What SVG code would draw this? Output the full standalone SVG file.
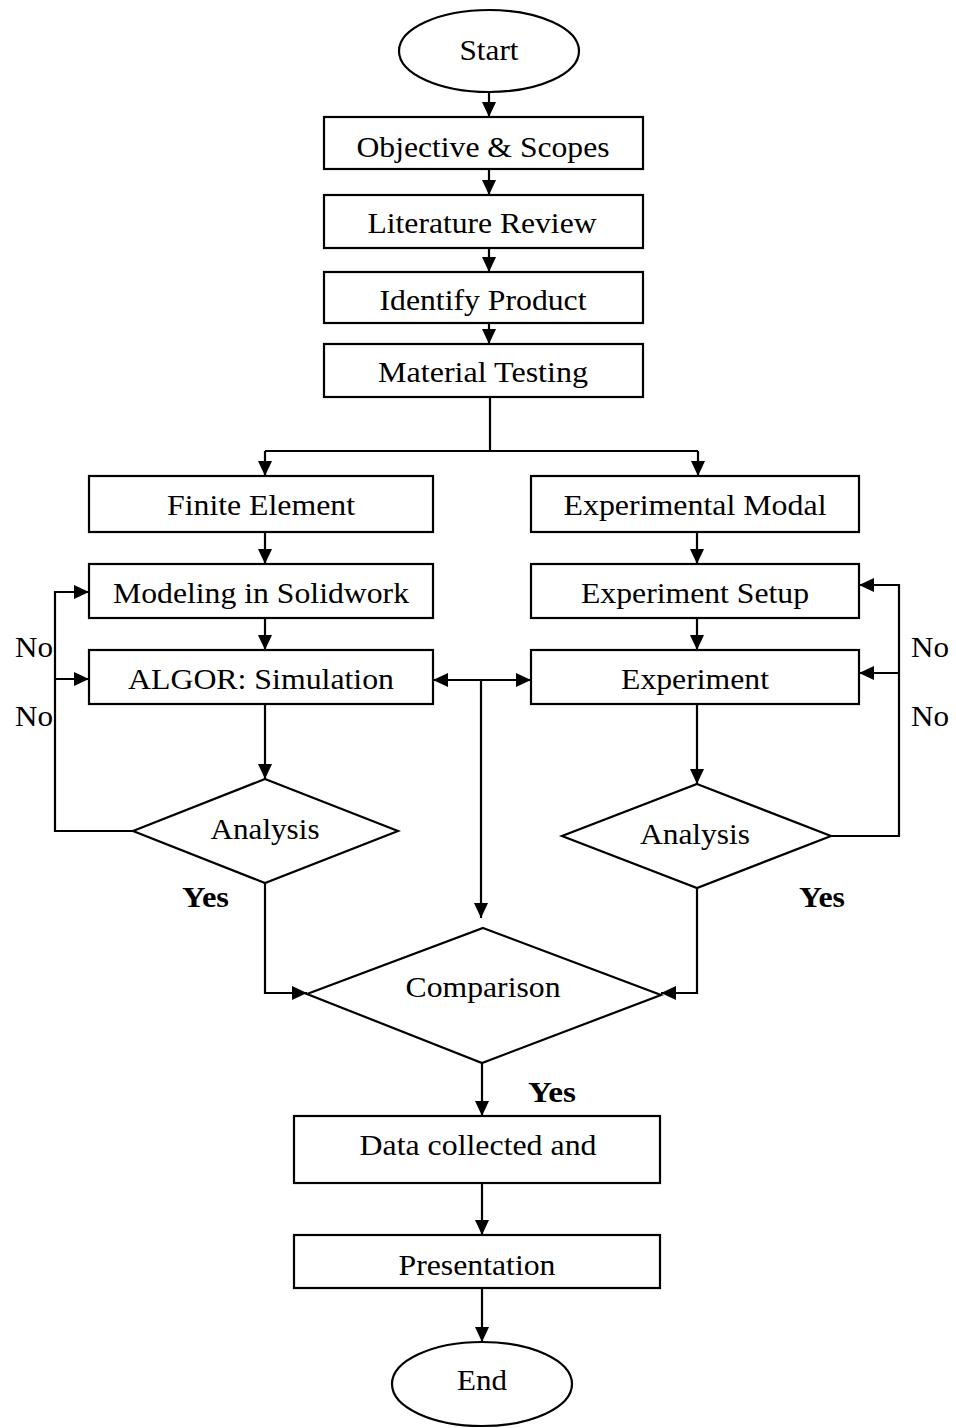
<svg xmlns="http://www.w3.org/2000/svg" width="956" height="1428" viewBox="0 0 956 1428">
<style>
.box{fill:#fff;stroke:#000;stroke-width:2.2}
.t{font-family:"Liberation Serif","Times New Roman",serif;font-size:30px;fill:#000;text-anchor:middle}
.lbl{font-family:"Liberation Serif","Times New Roman",serif;font-size:30px;fill:#000}
.b{font-weight:bold}
.c{fill:none;stroke:#000;stroke-width:2.2}
</style>
<defs>
<marker id="ah" markerUnits="userSpaceOnUse" markerWidth="15" markerHeight="14" refX="15" refY="7" orient="auto">
<path d="M0,0 L15,7 L0,14 z" fill="#000"/>
</marker>
</defs>
<rect width="956" height="1428" fill="#fff"/>
<g id="connectors">
<path class="c" d="M489,92 V117" marker-end="url(#ah)"/>
<path class="c" d="M489,169 V195" marker-end="url(#ah)"/>
<path class="c" d="M489,248 V272" marker-end="url(#ah)"/>
<path class="c" d="M489,323 V344" marker-end="url(#ah)"/>
<path class="c" d="M490,397 V451 M265,451 H698"/>
<path class="c" d="M265,451 V476" marker-end="url(#ah)"/>
<path class="c" d="M698,451 V476" marker-end="url(#ah)"/>
<path class="c" d="M265,532 V564" marker-end="url(#ah)"/>
<path class="c" d="M697,532 V564" marker-end="url(#ah)"/>
<path class="c" d="M265,618 V650" marker-end="url(#ah)"/>
<path class="c" d="M697,618 V650" marker-end="url(#ah)"/>
<path class="c" d="M265,704 V779" marker-end="url(#ah)"/>
<path class="c" d="M697,704 V784" marker-end="url(#ah)"/>
<path class="c" d="M133,831 H55 V592 H89" marker-end="url(#ah)"/>
<path class="c" d="M55,679 H89" marker-end="url(#ah)"/>
<path class="c" d="M831,836 H899 V585 H859" marker-end="url(#ah)"/>
<path class="c" d="M899,673 H859" marker-end="url(#ah)"/>
<path class="c" d="M481,680 H433" marker-end="url(#ah)"/>
<path class="c" d="M481,680 H531" marker-end="url(#ah)"/>
<path class="c" d="M481,680 V918" marker-end="url(#ah)"/>
<path class="c" d="M265,883 V993 H307" marker-end="url(#ah)"/>
<path class="c" d="M697,888 V993 H661" marker-end="url(#ah)"/>
<path class="c" d="M482,1063 V1116" marker-end="url(#ah)"/>
<path class="c" d="M482,1183 V1235" marker-end="url(#ah)"/>
<path class="c" d="M482,1288 V1342" marker-end="url(#ah)"/>
</g>
<g id="start"><ellipse class="box" cx="489" cy="51" rx="90" ry="41"/><text class="t" x="489" y="60" textLength="59" lengthAdjust="spacingAndGlyphs">Start</text></g>
<g id="objective"><rect class="box" x="324" y="117" width="319" height="52"/><text class="t" x="483" y="157" textLength="253" lengthAdjust="spacingAndGlyphs">Objective &amp; Scopes</text></g>
<g id="literature"><rect class="box" x="324" y="195" width="319" height="53"/><text class="t" x="482" y="233" textLength="229" lengthAdjust="spacingAndGlyphs">Literature Review</text></g>
<g id="identify"><rect class="box" x="324" y="272" width="319" height="51"/><text class="t" x="483" y="310" textLength="207" lengthAdjust="spacingAndGlyphs">Identify Product</text></g>
<g id="material"><rect class="box" x="324" y="344" width="319" height="53"/><text class="t" x="483" y="382" textLength="210" lengthAdjust="spacingAndGlyphs">Material Testing</text></g>
<g id="finite"><rect class="box" x="89" y="476" width="344" height="56"/><text class="t" x="261" y="515" textLength="188" lengthAdjust="spacingAndGlyphs">Finite Element</text></g>
<g id="expmodal"><rect class="box" x="531" y="476" width="328" height="56"/><text class="t" x="695" y="515" textLength="263" lengthAdjust="spacingAndGlyphs">Experimental Modal</text></g>
<g id="modeling"><rect class="box" x="89" y="564" width="344" height="54"/><text class="t" x="261" y="603" textLength="296" lengthAdjust="spacingAndGlyphs">Modeling in Solidwork</text></g>
<g id="setup"><rect class="box" x="531" y="564" width="328" height="54"/><text class="t" x="695" y="603" textLength="228" lengthAdjust="spacingAndGlyphs">Experiment Setup</text></g>
<g id="algor"><rect class="box" x="89" y="650" width="344" height="54"/><text class="t" x="261" y="689" textLength="266" lengthAdjust="spacingAndGlyphs">ALGOR: Simulation</text></g>
<g id="experiment"><rect class="box" x="531" y="650" width="328" height="54"/><text class="t" x="695" y="689" textLength="148" lengthAdjust="spacingAndGlyphs">Experiment</text></g>
<g id="analysis-left"><polygon class="box" points="265,779 398,831 265,883 133,831"/><text class="t" x="265" y="839" textLength="109" lengthAdjust="spacingAndGlyphs">Analysis</text></g>
<g id="analysis-right"><polygon class="box" points="697,784 831,836 697,888 562,836"/><text class="t" x="695" y="844" textLength="110" lengthAdjust="spacingAndGlyphs">Analysis</text></g>
<g id="comparison"><polygon class="box" points="483,928 661,995 482,1063 307,994"/><text class="t" x="483" y="997" textLength="155" lengthAdjust="spacingAndGlyphs">Comparison</text></g>
<g id="data"><rect class="box" x="294" y="1116" width="366" height="67"/><text class="t" x="478" y="1155" textLength="237" lengthAdjust="spacingAndGlyphs">Data collected and</text></g>
<g id="presentation"><rect class="box" x="294" y="1235" width="366" height="53"/><text class="t" x="477" y="1275" textLength="157" lengthAdjust="spacingAndGlyphs">Presentation</text></g>
<g id="end"><ellipse class="box" cx="482" cy="1384" rx="90" ry="42"/><text class="t" x="482" y="1390" textLength="50" lengthAdjust="spacingAndGlyphs">End</text></g>
<g id="labels">
<text class="lbl" x="15" y="657" textLength="38" lengthAdjust="spacingAndGlyphs">No</text>
<text class="lbl" x="15" y="726" textLength="38" lengthAdjust="spacingAndGlyphs">No</text>
<text class="lbl" x="911" y="657" textLength="38" lengthAdjust="spacingAndGlyphs">No</text>
<text class="lbl" x="911" y="726" textLength="38" lengthAdjust="spacingAndGlyphs">No</text>
<text class="lbl b" x="182" y="907" textLength="47" lengthAdjust="spacingAndGlyphs">Yes</text>
<text class="lbl b" x="799" y="907" textLength="46" lengthAdjust="spacingAndGlyphs">Yes</text>
<text class="lbl b" x="528" y="1102" textLength="48" lengthAdjust="spacingAndGlyphs">Yes</text>
</g>
</svg>
